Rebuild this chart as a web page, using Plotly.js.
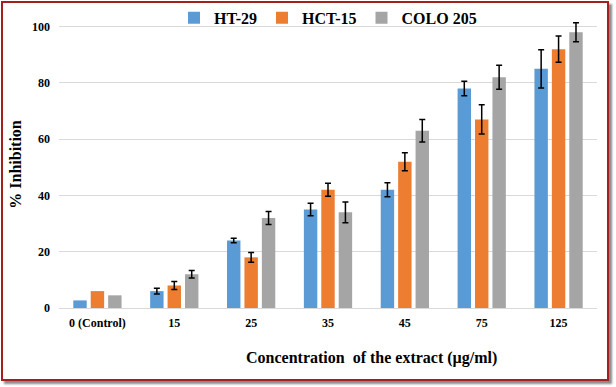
<!DOCTYPE html>
<html><head><meta charset="utf-8">
<script src="https://cdn.plot.ly/plotly-3.0.1.min.js"></script>
<style>
html,body{margin:0;padding:0;background:#fff;}
#wrap{position:relative;width:616px;height:387px;}
#chart{position:absolute;left:0;top:0;width:616px;height:387px;}
#frame{position:absolute;left:1px;top:1px;width:604px;height:376px;border:2px solid #a3201f;box-shadow:3px 3px 2px #8a8a8a;pointer-events:none;}
</style></head>
<body><div id="wrap"><div id="chart"></div><div id="frame"></div></div>
<script>
const categories = ["0 (Control)", "15", "25", "35", "45", "75", "125"];
const ht29 = [2.7, 6, 24, 35, 42, 78, 85];
const ht29Err = [NaN, 1.0, 0.8, 2.2, 2.5, 2.6, 6.8];
const hct15 = [6, 8, 18, 42, 52, 67, 92];
const hct15Err = [NaN, 1.4, 1.7, 2.3, 3.2, 5.2, 4.7];
const colo205 = [4.5, 12, 32, 34, 63, 82, 98];
const colo205Err = [NaN, 1.3, 2.3, 3.7, 4.0, 4.3, 3.4];

function mk(name, y, err, color){
  return {type:'bar', name:name, x:categories, y:y, marker:{color:color}, cliponaxis:false,
    error_y:{type:'data', array:err, visible:true, color:'#000', thickness:1.5, width:3}};
}
const data = [
  mk('HT-29', ht29, ht29Err, '#5B9BD5'),
  mk('HCT-15', hct15, hct15Err, '#ED7D31'),
  mk('COLO 205', colo205, colo205Err, '#A5A5A5')
];
const fam = 'Liberation Serif, Times New Roman, serif';
const layout = {
  width:616, height:387,
  margin:{l:59, r:19, t:21, b:79, autoexpand:false},
  paper_bgcolor:'rgba(0,0,0,0)', plot_bgcolor:'rgba(0,0,0,0)',
  barmode:'group', bargap:0.32, bargroupgap:0.23,
  font:{family:fam, color:'#000'},
  showlegend:true,
  legend:{orientation:'h', x:0.5, xanchor:'center', y:1.011, yanchor:'middle', bgcolor:'rgba(0,0,0,0)',
    font:{family:fam, size:16, color:'#000', weight:'bold'}, itemwidth:30, tracegroupgap:0},
  xaxis:{type:'category', tickfont:{family:fam, size:12, color:'#000', weight:'bold'},
    showline:true, linecolor:'#d9d9d9', linewidth:1, ticks:'', ticklabelstandoff:4},
  yaxis:{range:[0,102], tick0:0, dtick:20, gridcolor:'#d9d9d9', zeroline:false,
    tickfont:{family:fam, size:12, color:'#000', weight:'bold'},
    ticklabelstandoff:8,
    title:{text:'% Inhibition', font:{family:fam, size:16, color:'#000', weight:'bold'}, standoff:6}},
  annotations:[{text:'Concentration  of the extract (µg/ml)', xref:'paper', yref:'paper',
    x:0.58, y:-0.1755, xanchor:'center', yanchor:'middle', showarrow:false,
    font:{family:fam, size:16, color:'#000', weight:'bold'}}]
};
Plotly.newPlot('chart', data, layout, {staticPlot:true, displayModeBar:false});
</script></body></html>
